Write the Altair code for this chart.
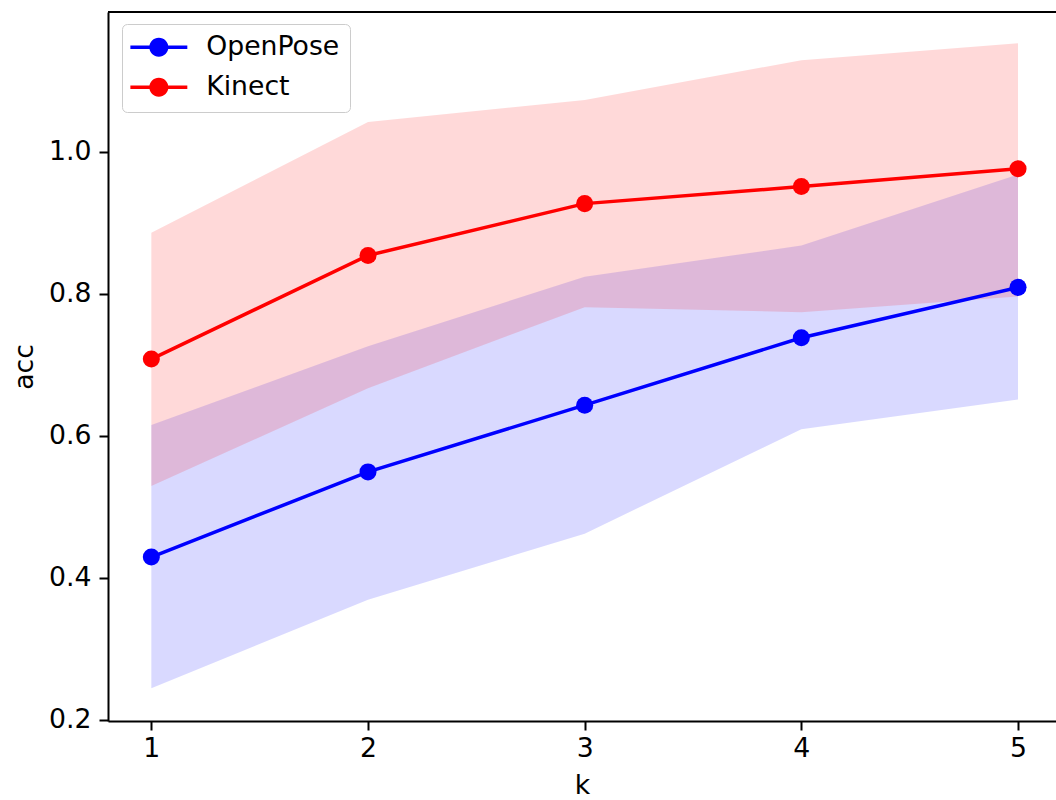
import altair as alt
import pandas as pd

k = [1, 2, 3, 4, 5]
series_names = ["OpenPose", "Kinect"]
series_colors = ["#0000ff", "#ff0000"]

openpose_mean = [0.429, 0.549, 0.643, 0.738, 0.809]
openpose_lower = [0.244, 0.369, 0.462, 0.609, 0.651]
openpose_upper = [0.615, 0.726, 0.824, 0.868, 0.968]

kinect_mean = [0.708, 0.854, 0.927, 0.951, 0.976]
kinect_lower = [0.529, 0.667, 0.781, 0.774, 0.796]
kinect_upper = [0.886, 1.042, 1.073, 1.129, 1.153]

y_ticks = [0.2, 0.4, 0.6, 0.8, 1.0]
x_ticks = [1, 2, 3, 4, 5]

rows = []
for i, kk in enumerate(k):
    rows.append({"k": kk, "series": "OpenPose", "mean": openpose_mean[i],
                 "lower": openpose_lower[i], "upper": openpose_upper[i]})
for i, kk in enumerate(k):
    rows.append({"k": kk, "series": "Kinect", "mean": kinect_mean[i],
                 "lower": kinect_lower[i], "upper": kinect_upper[i]})
df = pd.DataFrame(rows)

W, H = 948, 709
FONT = "DejaVu Sans"
FS = 26.7

xscale = alt.Scale(domain=[0.8, 5.1753], nice=False, zero=False)
yscale = alt.Scale(domain=[0.198, 1.197], nice=False, zero=False)
cscale = alt.Scale(domain=series_names, range=series_colors)

legend_path = ("M-2.19,-0.135 L2.19,-0.135 L2.19,0.135 L-2.19,0.135 Z "
               "M-0.73,0 A0.73,0.73 0 1 1 0.73,0 A0.73,0.73 0 1 1 -0.73,0 Z")
legend = alt.Legend(title=None, orient="none", legendX=14, legendY=12,
                    symbolType=legend_path, symbolSize=676, symbolOffset=13.5,
                    symbolStrokeWidth=0, symbolOpacity=1,
                    labelFontSize=FS, labelFont=FONT, labelColor="black",
                    labelOffset=34, rowPadding=12, padding=10,
                    fillColor="rgba(255,255,255,0.8)",
                    strokeColor="#cccccc", cornerRadius=5)

xenc = alt.X("k:Q", scale=xscale, title="k",
             axis=alt.Axis(values=x_ticks, format="d", grid=False, tickSize=9, tickWidth=2,
                           domainWidth=2, domainColor="black", tickColor="black",
                           labelFontSize=FS, titleFontSize=FS, labelPadding=5, titlePadding=11,
                           labelFont=FONT, titleFont=FONT, titleFontWeight="normal",
                           labelColor="black", titleColor="black"))
yenc = alt.Y("mean:Q", scale=yscale, title="acc",
             axis=alt.Axis(values=y_ticks, format=".1f", grid=False, tickSize=9, tickWidth=2,
                           domainWidth=2, domainColor="black", tickColor="black",
                           labelFontSize=FS, titleFontSize=FS, labelPadding=8, titlePadding=10,
                           labelFont=FONT, titleFont=FONT, titleFontWeight="normal",
                           labelColor="black", titleColor="black"))

base = alt.Chart(df)

bands = []
for name, col in zip(series_names, series_colors):
    bands.append(
        base.transform_filter(alt.datum.series == name)
        .mark_area(color=col, opacity=0.15)
        .encode(x=alt.X("k:Q", scale=xscale),
                y=alt.Y("lower:Q", scale=yscale),
                y2="upper:Q")
    )

color_enc = alt.Color("series:N", scale=cscale, sort=series_names, legend=legend)

lines = base.mark_line(strokeWidth=3.5).encode(
    x=xenc, y=yenc, color=color_enc, detail="series:N",
)

points = base.mark_circle(size=290, opacity=1).encode(
    x=alt.X("k:Q", scale=xscale),
    y=alt.Y("mean:Q", scale=yscale),
    color=color_enc,
)

top_spine = alt.Chart(df).mark_rule(color="black", strokeWidth=2).encode(
    x=alt.value(0), x2=alt.value(W), y=alt.value(0)
)

chart = alt.layer(*bands, lines, points, top_spine).properties(
    width=W, height=H,
    autosize=alt.AutoSizeParams(type="none"),
    padding={"left": 108, "top": 12, "right": 0, "bottom": 79},
).configure_view(stroke=None).configure(background="white")

chart.save("out.html", embed_options={"renderer": "svg", "actions": False})
